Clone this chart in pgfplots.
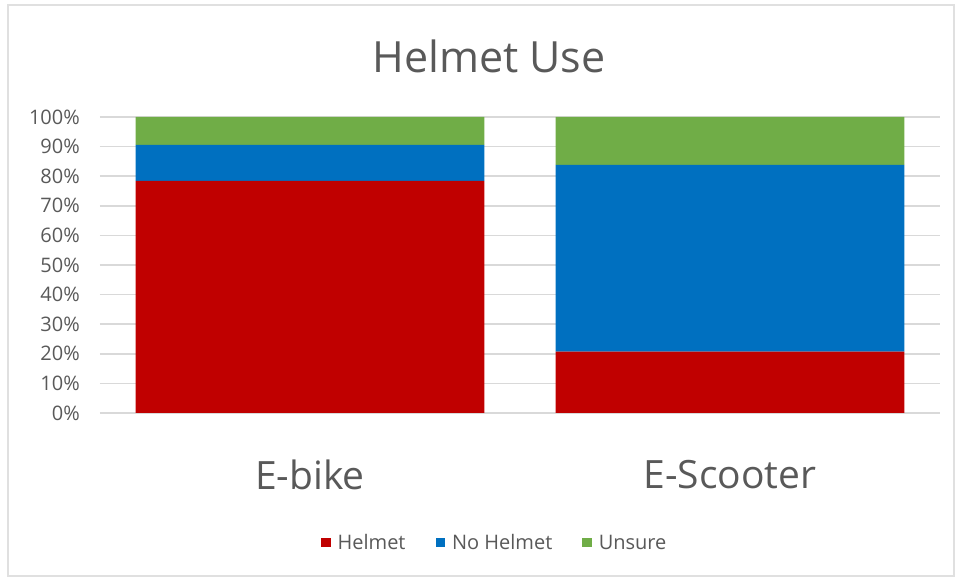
\documentclass[border=0pt]{standalone}
\usepackage{pgfplots}
\pgfplotsset{compat=1.18}
\usepackage{fontspec}
\setmainfont{Open Sans}
\definecolor{cRed}{HTML}{C00000}
\definecolor{cBlue}{HTML}{0070C0}
\definecolor{cGreen}{HTML}{70AD47}
\definecolor{txt}{HTML}{595959}
\definecolor{grd}{HTML}{D9D9D9}
\begin{document}
\begin{tikzpicture}[x=1pt,y=1pt]
\path[use as bounding box] (0,0) rectangle (959,578);
\draw[black!12, line width=1.5pt] (8,2) rectangle (954,573);
\node[anchor=base, text=txt, font=\fontsize{43}{50}\selectfont, inner sep=0pt] at (489,505.7) {Helmet Use};
\begin{axis}[at={(100pt,165pt)}, anchor=south west, scale only axis,
  width=840pt, height=296pt,
  ybar stacked, bar width=0.83,
  ymin=0, ymax=100, xmin=-0.5, xmax=1.5,
  xtick={0,1}, xticklabels={E-bike,E-Scooter},
  ytick={0,10,...,100},
  yticklabel={\pgfmathprintnumber{\tick}\%},
  /pgf/number format/assume math mode=true,
  ymajorgrids, major grid style={grd, line width=1.5pt},
  axis line style={draw=none}, major tick length=0pt,
  yticklabel style={anchor=east, inner sep=0pt, xshift=-20pt, text=txt, font=\fontsize{20}{24}\selectfont},
  xticklabel style={anchor=north, inner sep=0pt, yshift=-47pt, text=txt, font=\fontsize{39}{46}\selectfont},
  legend style={at={(0.47,-0.439)}, anchor=center, draw=none, legend columns=3,
    font=\fontsize{20}{24}\selectfont, text=txt,
    /tikz/every even column/.append style={column sep=28pt},
    /tikz/every odd column/.append style={column sep=5pt}},
  legend image code/.code={\fill[#1] (0pt,-4.5pt) rectangle (9.5pt,5pt);},
]
\addplot[fill=cRed, draw=none] coordinates {(0,78.4) (1,20.7)};
\addplot[fill=cBlue, draw=none] coordinates {(0,12.2) (1,63.1)};
\addplot[fill=cGreen, draw=none] coordinates {(0,9.4) (1,16.2)};
\legend{Helmet, No Helmet, Unsure}
\end{axis}
\end{tikzpicture}
\end{document}
